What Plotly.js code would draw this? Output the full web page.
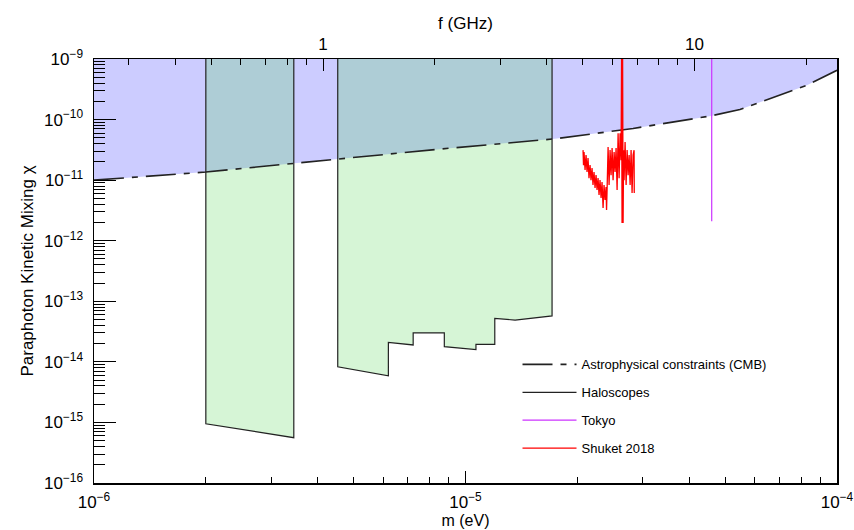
<!DOCTYPE html>
<html><head><meta charset="utf-8">
<script src="https://cdn.plot.ly/plotly-3.0.1.min.js"></script>
<style>html,body{margin:0;padding:0;background:#fff}#plot{width:854px;height:530px}</style>
</head><body><div id="plot"></div>
<script>
// ---- data ----
const chiTop = 1e-9;
const cmbMass = [1e-6, 2e-6, 4.53e-6, 9.08e-6, 1.741e-5, 2.826e-5, 4.58e-5, 5.48e-5, 8.30e-5, 1e-4];
const cmbChi  = [1.0e-11, 1.36e-11, 2.23e-11, 3.37e-11, 4.81e-11, 7.13e-11, 1.15e-10, 1.47e-10, 3.69e-10, 6.52e-10];

const halo1Mass = [2.0e-6, 2.0e-6, 3.45e-6, 3.45e-6];
const halo1Chi  = [1e-9, 9.5e-16, 5.6e-16, 1e-9];

const halo2Mass = [4.53e-6, 4.53e-6, 6.20e-6, 6.20e-6, 7.23e-6, 7.23e-6, 8.77e-6, 8.77e-6, 1.067e-5, 1.067e-5, 1.199e-5, 1.199e-5, 1.36e-5, 1.71e-5, 1.71e-5];
const halo2Chi  = [1e-9, 8.3e-15, 5.9e-15, 2.09e-14, 1.9e-14, 3.0e-14, 3.0e-14, 1.78e-14, 1.6e-14, 1.95e-14, 1.95e-14, 5.2e-14, 4.9e-14, 5.75e-14, 1e-9];

const tokyoMass = [4.60e-5, 4.60e-5];
const tokyoChi  = [1e-9, 2.1e-12];

const shuketMass = [2.072e-5, 2.078e-5, 2.085e-5, 2.098e-5, 2.111e-5, 2.124e-5, 2.137e-5, 2.150e-5, 2.164e-5, 2.177e-5,
  2.191e-5, 2.204e-5, 2.218e-5, 2.232e-5, 2.246e-5, 2.260e-5, 2.274e-5, 2.288e-5, 2.302e-5, 2.317e-5,
  2.331e-5, 2.346e-5, 2.360e-5, 2.375e-5, 2.390e-5, 2.397e-5, 2.405e-5, 2.420e-5, 2.435e-5, 2.450e-5,
  2.465e-5, 2.481e-5, 2.496e-5, 2.512e-5, 2.527e-5, 2.543e-5, 2.559e-5, 2.575e-5, 2.591e-5, 2.607e-5,
  2.623e-5, 2.631e-5, 2.639e-5, 2.648e-5, 2.656e-5, 2.664e-5, 2.672e-5, 2.689e-5, 2.706e-5, 2.723e-5,
  2.740e-5, 2.757e-5, 2.774e-5, 2.791e-5, 2.808e-5, 2.826e-5, 2.843e-5, 2.846e-5];
const shuketChi = [3.13e-11, 1.77e-11, 2.90e-11, 1.47e-11, 2.59e-11, 1.36e-11, 2.31e-11, 1.08e-11, 1.77e-11, 1.00e-11,
  1.58e-11, 8.30e-12, 1.36e-11, 7.41e-12, 1.21e-11, 6.87e-12, 1.08e-11, 5.68e-12, 1.00e-11, 5.07e-12,
  9.30e-12, 3.47e-12, 8.30e-12, 4.70e-12, 7.69e-12, 3.22e-12, 6.87e-12, 3.51e-11, 8.30e-12, 3.13e-11,
  1.21e-11, 3.38e-11, 1.00e-11, 2.90e-11, 1.36e-11, 3.38e-11, 6.87e-12, 5.97e-11, 1.08e-11, 5.97e-11,
  2.14e-11, 1e-9, 1.96e-12, 1e-9, 1.96e-12, 3.13e-11, 1.00e-11, 4.25e-11, 8.30e-12, 3.13e-11,
  1.21e-11, 2.59e-11, 8.30e-12, 3.13e-11, 6.12e-12, 2.59e-11, 3.13e-11, 6.12e-12];

// axis ticks
const xTickVals = [1e-6, 1e-5, 1e-4];
const xTickText = ['10<sup>\u22126</sup>', '10<sup>\u22125</sup>', '10<sup>\u22124</sup>'];
const xMinor = [2e-6,3e-6,4e-6,5e-6,6e-6,7e-6,8e-6,9e-6,2e-5,3e-5,4e-5,5e-5,6e-5,7e-5,8e-5,9e-5];
const yTickVals = [1e-16,1e-15,1e-14,1e-13,1e-12,1e-11,1e-10,1e-9];
const yTickText = ['10<sup>\u221216</sup>','10<sup>\u221215</sup>','10<sup>\u221214</sup>','10<sup>\u221213</sup>','10<sup>\u221212</sup>','10<sup>\u221211</sup>','10<sup>\u221210</sup>','10<sup>\u22129</sup>'];
const yMinor = [];
for (let e = -16; e < -9; e++) for (let k = 2; k <= 9; k++) yMinor.push(k * Math.pow(10, e));
const fTickVals = [1, 10];
const fTickText = ['1', '10'];
const fMinor = [0.3,0.4,0.5,0.6,0.7,0.8,0.9,2,3,4,5,6,7,8,9,20];
const eVperGHz = 4.1357e-6;

// ---- traces ----
const lavender = '#ccccff';
const greenFill = 'rgba(77,211,77,0.23)';
const cmbFillX = cmbMass.concat([cmbMass[cmbMass.length-1], cmbMass[0]]);
const cmbFillY = cmbChi.concat([chiTop, chiTop]);
const tokyoFreq = tokyoMass.map(m => m / eVperGHz);   // same line, placed via the frequency axis

const traces = [
  {x: cmbFillX, y: cmbFillY, mode: 'lines', fill: 'toself', fillcolor: lavender, line: {width: 0}, showlegend: false, hoverinfo: 'skip'},
  {x: halo1Mass, y: halo1Chi, mode: 'lines', fill: 'toself', fillcolor: greenFill, line: {width: 0}, showlegend: false, hoverinfo: 'skip'},
  {x: halo2Mass, y: halo2Chi, mode: 'lines', fill: 'toself', fillcolor: greenFill, line: {width: 0}, showlegend: false, hoverinfo: 'skip'},
  {x: cmbMass, y: cmbChi, mode: 'lines', name: 'Astrophysical constraints (CMB)', legendgroup: 'a',
   line: {color: '#222', width: 1.6, dash: '30px,8px,6px,8px'}},
  {x: halo1Mass, y: halo1Chi, mode: 'lines', name: 'Haloscopes', legendgroup: 'b', line: {color: '#222', width: 1.2}},
  {x: halo2Mass, y: halo2Chi, mode: 'lines', name: 'Haloscopes', legendgroup: 'b', showlegend: false, line: {color: '#222', width: 1.2}},
  {x: tokyoFreq, y: tokyoChi, xaxis: 'x2', mode: 'lines', name: 'Tokyo', legendgroup: 'c', line: {color: '#cc33ff', width: 1.2}},
  {x: shuketMass, y: shuketChi, mode: 'lines', name: 'Shuket 2018', legendgroup: 'd', line: {color: '#ff0000', width: 1.3}}
];

const fnt = 'Liberation Sans, Arial, sans-serif';
const layout = {
  width: 854, height: 530,
  margin: {l: 94, r: 17, t: 59, b: 47},
  paper_bgcolor: '#fff', plot_bgcolor: '#fff',
  font: {family: fnt, color: '#000'},
  showlegend: true,
  legend: {x: 0.57, y: 0.315, xanchor: 'left', yanchor: 'top', bgcolor: 'rgba(0,0,0,0)',
    font: {size: 13, family: fnt}, tracegroupgap: 8, itemwidth: 54},
  xaxis: {type: 'log', range: [-6, -4], showgrid: false, zeroline: false,
    showline: true, linecolor: '#000', linewidth: 1.5, mirror: false,
    tickmode: 'array', tickvals: xTickVals, ticktext: xTickText,
    ticks: 'inside', ticklen: 12, tickcolor: '#000', tickwidth: 1,
    tickfont: {size: 17, family: fnt}, ticklabelstandoff: 3,
    minor: {tickmode: 'array', tickvals: xMinor, ticks: 'inside', ticklen: 6, tickcolor: '#000', tickwidth: 1, showgrid: false},
    title: {text: 'm (eV)', font: {size: 16, family: fnt}, standoff: 0}},
  xaxis2: {type: 'log', overlaying: 'x', side: 'top', anchor: 'y',
    range: [Math.log10(1e-6 / eVperGHz), Math.log10(1e-4 / eVperGHz)],
    showgrid: false, zeroline: false, showline: true, linecolor: '#000', linewidth: 1.5,
    tickmode: 'array', tickvals: fTickVals, ticktext: fTickText,
    ticks: 'inside', ticklen: 12, tickcolor: '#000', tickwidth: 1,
    tickfont: {size: 17, family: fnt}, ticklabelstandoff: 1,
    minor: {tickmode: 'array', tickvals: fMinor, ticks: 'inside', ticklen: 6, tickcolor: '#000', tickwidth: 1, showgrid: false},
    title: {text: 'f (GHz)', font: {size: 17, family: fnt}, standoff: 1}},
  yaxis: {type: 'log', range: [-16, -9], showgrid: false, zeroline: false,
    showline: true, linecolor: '#000', linewidth: 1.5, mirror: true,
    tickmode: 'array', tickvals: yTickVals, ticktext: yTickText,
    ticks: 'inside', ticklen: 22, tickcolor: '#000', tickwidth: 1,
    tickfont: {size: 17, family: fnt}, ticklabelstandoff: 6,
    minor: {tickmode: 'array', tickvals: yMinor, ticks: 'inside', ticklen: 11, tickcolor: '#000', tickwidth: 1, showgrid: false},
    title: {text: 'Paraphoton Kinetic Mixing \u03c7', font: {size: 17, family: fnt}, standoff: 6}}
};

Plotly.newPlot('plot', traces, layout, {displayModeBar: false, staticPlot: true});
</script></body></html>
